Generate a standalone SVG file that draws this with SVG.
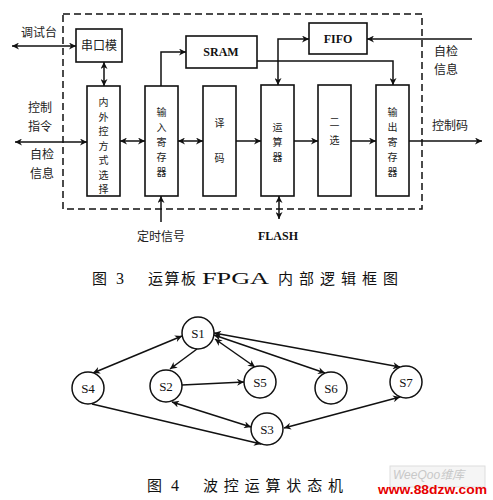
<svg xmlns="http://www.w3.org/2000/svg" width="493" height="500" viewBox="0 0 493 500">
<style>
.bx{fill:#fff;stroke:#111;stroke-width:1.6}
.ln{fill:none;stroke:#111;stroke-width:1.5}
.cj{font-family:"Noto Sans CJK SC","Liberation Serif",sans-serif;font-size:12px;fill:#222;text-anchor:middle}
.vt{font-family:"Noto Sans CJK SC","Liberation Serif",sans-serif;font-size:10px;fill:#222;text-anchor:middle}
.en{font-family:"Liberation Serif",serif;font-size:12px;font-weight:bold;fill:#111;text-anchor:middle}
.st{font-family:"Liberation Serif",serif;font-size:13px;fill:#111;text-anchor:middle}
.cap{font-family:"Noto Sans CJK SC","Liberation Serif",serif;font-size:15px;fill:#111}
.capn{font-family:"Liberation Serif",serif;font-size:16px;fill:#111}
.nd{fill:#fff;stroke:#111;stroke-width:1.5}
</style>
<defs>
<marker id="a" viewBox="0 0 10 10" refX="10" refY="5" markerWidth="9" markerHeight="7" markerUnits="userSpaceOnUse" orient="auto-start-reverse">
<path d="M0,0 L10,5 L0,10 L3,5 Z" fill="#111"/>
</marker>
</defs>
<rect width="493" height="500" fill="#fff"/>

<!-- top block diagram -->
<rect x="63" y="14" width="359" height="195" fill="none" stroke="#111" stroke-width="1.5" stroke-dasharray="7,4"/>

<g id="uart"><rect class="bx" x="76" y="29" width="46" height="33"/><text class="cj" x="99" y="50">串口模</text></g>
<g id="sram"><rect class="bx" x="186" y="36" width="71" height="32"/><text class="en" x="221" y="56">SRAM</text></g>
<g id="fifo"><rect class="bx" x="309" y="23" width="58" height="31"/><text class="en" x="338" y="43">FIFO</text></g>
<g id="sel"><rect class="bx" x="87" y="86" width="33" height="110"/>
<text class="vt" x="103.5" y="106">内</text><text class="vt" x="103.5" y="120.5">外</text><text class="vt" x="103.5" y="135">控</text><text class="vt" x="103.5" y="149.5">方</text><text class="vt" x="103.5" y="164">式</text><text class="vt" x="103.5" y="178.5">选</text><text class="vt" x="103.5" y="193">择</text></g>
<g id="inreg"><rect class="bx" x="145" y="86" width="33" height="110"/>
<text class="vt" x="161.5" y="116">输</text><text class="vt" x="161.5" y="131">入</text><text class="vt" x="161.5" y="146">寄</text><text class="vt" x="161.5" y="161">存</text><text class="vt" x="161.5" y="176">器</text></g>
<g id="dec"><rect class="bx" x="203" y="86" width="33" height="110"/>
<text class="vt" x="219.5" y="127">译</text><text class="vt" x="219.5" y="162">码</text></g>
<g id="alu"><rect class="bx" x="261" y="85" width="33" height="111"/>
<text class="vt" x="277.5" y="131">运</text><text class="vt" x="277.5" y="146">算</text><text class="vt" x="277.5" y="161">器</text></g>
<g id="mux"><rect class="bx" x="318" y="85" width="33" height="111"/>
<text class="vt" x="334.5" y="126">二</text><text class="vt" x="334.5" y="144">选</text></g>
<g id="outreg"><rect class="bx" x="376" y="85" width="33" height="111"/>
<text class="vt" x="392.5" y="116">输</text><text class="vt" x="392.5" y="131">出</text><text class="vt" x="392.5" y="146">寄</text><text class="vt" x="392.5" y="161">存</text><text class="vt" x="392.5" y="176">器</text></g>

<g id="labels-top">
<text class="cj" x="39" y="37">调试台</text>
<text class="cj" x="40" y="112">控制</text>
<text class="cj" x="40" y="131">指令</text>
<text class="cj" x="42" y="159">自检</text>
<text class="cj" x="42" y="178">信息</text>
<text class="cj" x="446" y="56">自检</text>
<text class="cj" x="446" y="74">信息</text>
<text class="cj" x="450" y="130">控制码</text>
<text class="cj" x="161" y="241">定时信号</text>
<text class="en" x="278" y="240">FLASH</text>
</g>

<g id="connectors-top">
<path class="ln" d="M12,46 H76" marker-start="url(#a)" marker-end="url(#a)"/>
<path class="ln" d="M104,62 V86" marker-start="url(#a)" marker-end="url(#a)"/>
<path class="ln" d="M15,142 H87" marker-start="url(#a)" marker-end="url(#a)"/>
<path class="ln" d="M120,141 H145" marker-start="url(#a)" marker-end="url(#a)"/>
<path class="ln" d="M178,141 H203" marker-start="url(#a)" marker-end="url(#a)"/>
<path class="ln" d="M236,141 H261" marker-end="url(#a)"/>
<path class="ln" d="M294,141 H318" marker-end="url(#a)"/>
<path class="ln" d="M351,141 H376" marker-end="url(#a)"/>
<path class="ln" d="M409,141 H482" marker-end="url(#a)"/>
<path class="ln" d="M161,86 V52 H186" marker-end="url(#a)"/>
<path class="ln" d="M257,61 H393 V85" marker-end="url(#a)"/>
<path class="ln" d="M278,85 V39 H309" marker-start="url(#a)" marker-end="url(#a)"/>
<path class="ln" d="M472,39 H367" marker-end="url(#a)"/>
<path class="ln" d="M161,222 V196" marker-end="url(#a)"/>
<path class="ln" d="M279,219 V196" marker-start="url(#a)" marker-end="url(#a)"/>
</g>

<g id="caption3">
<text class="cap" x="92" y="284">图</text>
<text class="capn" x="116" y="284">3</text>
<text class="cap" x="148" y="284" textLength="48" lengthAdjust="spacing">运算板</text>
<text class="capn" x="202" y="284" textLength="67" lengthAdjust="spacingAndGlyphs">FPGA</text>
<text class="cap" x="278" y="284" textLength="120" lengthAdjust="spacing">内部逻辑框图</text>
</g>

<!-- state machine -->
<g id="connectors-fsm">
<path class="ln" d="M182,336 L93,373" marker-start="url(#a)" marker-end="url(#a)"/>
<path class="ln" d="M197,349 L170,369" marker-end="url(#a)"/>
<path class="ln" d="M182,385 L244,382" marker-end="url(#a)"/>
<path class="ln" d="M215,339 L255,367" marker-start="url(#a)" marker-end="url(#a)"/>
<path class="ln" d="M214,335 L325,373" marker-start="url(#a)" marker-end="url(#a)"/>
<path class="ln" d="M214,333 L400,367" marker-start="url(#a)" marker-end="url(#a)"/>
<path class="ln" d="M172,402 L251,427" marker-start="url(#a)" marker-end="url(#a)"/>
<path class="ln" d="M92,404 L261,444" marker-end="url(#a)"/>
<path class="ln" d="M400,397 L284,428" marker-start="url(#a)" marker-end="url(#a)"/>
</g>
<g id="S1"><circle class="nd" cx="198" cy="333" r="16"/><text class="st" x="198" y="338">S1</text></g>
<g id="S2"><circle class="nd" cx="166" cy="386" r="16"/><text class="st" x="166" y="391">S2</text></g>
<g id="S3"><circle class="nd" cx="267" cy="429" r="16"/><text class="st" x="267" y="434">S3</text></g>
<g id="S4"><circle class="nd" cx="88" cy="388" r="16"/><text class="st" x="88" y="393">S4</text></g>
<g id="S5"><circle class="nd" cx="260" cy="382" r="16"/><text class="st" x="260" y="387">S5</text></g>
<g id="S6"><circle class="nd" cx="331" cy="388" r="16"/><text class="st" x="331" y="393">S6</text></g>
<g id="S7"><circle class="nd" cx="406" cy="382" r="16"/><text class="st" x="406" y="387">S7</text></g>

<g id="caption4">
<text class="cap" x="147" y="491">图</text>
<text class="capn" x="171" y="491">4</text>
<text class="cap" x="203" y="491" textLength="140" lengthAdjust="spacing">波控运算状态机</text>
</g>

<g id="watermark">
<rect x="390" y="466" width="95" height="21" fill="#f5f5f5" stroke="#ddd" stroke-width="1"/>
<text x="393" y="479" font-family="Liberation Sans, Noto Sans CJK SC, sans-serif" font-size="12" font-style="italic" fill="#c8c8c8">WeeQoo维库</text>
<text x="378" y="494" font-family="Liberation Sans, sans-serif" font-size="13" font-weight="bold" fill="#e60000" textLength="109" lengthAdjust="spacingAndGlyphs">www.88dzw.com</text>
</g>
</svg>
